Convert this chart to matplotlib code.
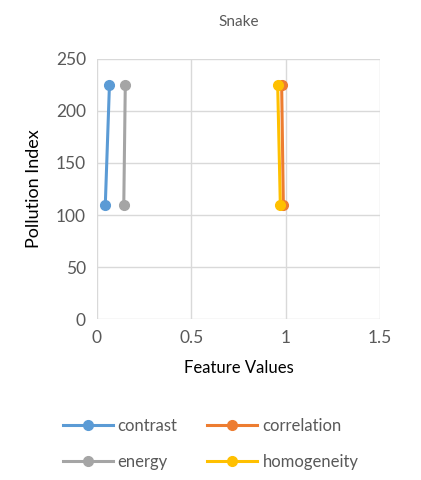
import matplotlib
matplotlib.use("Agg")
import matplotlib.pyplot as plt
from matplotlib.ticker import MultipleLocator

plt.rcParams['font.family'] = ['Lato', 'DejaVu Sans']

# Feature values (x) vs pollution index (y), two points per feature
pollution = [110, 225]
features = ["contrast", "correlation", "energy", "homogeneity"]
values = {
    "contrast":    [0.044, 0.066],
    "correlation": [0.988, 0.979],
    "energy":      [0.142, 0.150],
    "homogeneity": [0.972, 0.958],
}
colors = {
    "contrast": "#5B9BD5",
    "correlation": "#ED7D31",
    "energy": "#A5A5A5",
    "homogeneity": "#FFC000",
}

fig = plt.figure(figsize=(4.21, 4.8), dpi=100)
ax = fig.add_axes([0.2304, 0.3354, 0.672, 0.5417])

lines = {}
for name in features:
    ln, = ax.plot(values[name], pollution, color=colors[name], lw=2.2,
                  marker='o', ms=7, label=name)
    lines[name] = ln

ax.set_xlim(0, 1.5)
ax.set_ylim(0, 250)
ax.yaxis.set_major_locator(MultipleLocator(50))
ax.set_xticks([0, 0.5, 1, 1.5])
ax.set_xticklabels(["0", "0.5", "1", "1.5"])
ax.grid(True, color='#D9D9D9', lw=1)
ax.set_axisbelow(True)
for s in ax.spines.values():
    s.set_visible(False)
ax.tick_params(length=0, labelsize=12.5, colors='#595959', pad=8)

ax.set_title("Snake", fontsize=11, color='#595959', pad=24)
ax.set_xlabel("Feature Values", fontsize=12, labelpad=10)
ax.set_ylabel("Pollution Index", fontsize=13, labelpad=10)

# legend fills column-wise, so order gives rows: contrast/correlation, energy/homogeneity
order = ["contrast", "energy", "correlation", "homogeneity"]
fig.legend([lines[n] for n in order], order, ncol=2, frameon=False,
           loc='center', bbox_to_anchor=(0.5, 0.075), fontsize=12,
           labelcolor='#595959', handlelength=3.0, columnspacing=1.8,
           handletextpad=0.3, labelspacing=1.2)

fig.savefig("out.png", dpi=100)
